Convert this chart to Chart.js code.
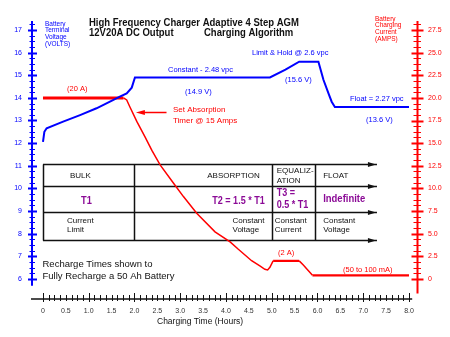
<!DOCTYPE html>
<html>
<head>
<meta charset="utf-8">
<script src="https://cdn.jsdelivr.net/npm/chart.js@4.4.1/dist/chart.umd.min.js"></script>
<style>
  body { margin: 0; background: #fff; }
  canvas { display: block; }
</style>
</head>
<body>
<canvas id="charger-chart" width="450" height="337"></canvas>
<script>
// Battery terminal voltage over the charge cycle
const voltTime = [0, 0.03, 0.08, 0.44, 0.81, 1.17, 1.54, 1.68, 1.83, 1.94, 2.01, 4.96, 5.3, 5.6, 6.02, 6.13, 6.24, 6.31, 6.38, 8.0];
const voltValues = [12.06, 12.5, 12.66, 12.95, 13.24, 13.54, 13.91, 14.05, 14.2, 14.45, 14.9, 14.9, 15.25, 15.6, 15.6, 14.8, 14.2, 13.83, 13.6, 13.6];

// Charging current over the same cycle
const ampTime = [0, 1.76, 1.83, 1.9, 2.05, 2.23, 2.38, 2.56, 2.85, 3.07, 3.36, 3.76, 4.09, 4.27, 4.56, 4.74, 4.85, 4.91, 4.96, 5.03, 5.6, 5.69, 5.89, 8.0];
const ampValues = [20, 20, 19.77, 19.0, 17.4, 15.7, 14.2, 12.6, 10.6, 9.1, 7.25, 5.2, 4.1, 3.28, 2.02, 1.44, 1.07, 1.0, 1.29, 2.0, 2.0, 1.55, 0.4, 0.4];

// Axis ticks
const xTickValues = [0, 0.5, 1, 1.5, 2, 2.5, 3, 3.5, 4, 4.5, 5, 5.5, 6, 6.5, 7, 7.5, 8];
const xTickLabels = ['0', '0.5', '1.0', '1.5', '2.0', '2.5', '3.0', '3.5', '4.0', '4.5', '5.0', '5.5', '6.0', '6.5', '7.0', '7.5', '8.0'];
const voltTicks = [6, 7, 8, 9, 10, 11, 12, 13, 14, 15, 16, 17];
const voltTickLabels = ['6', '7', '8', '9', '10', '11', '12', '13', '14', '15', '16', '17'];
const ampTicks = [0, 2.5, 5, 7.5, 10, 12.5, 15, 17.5, 20, 22.5, 25, 27.5];
const ampTickLabels = ['0', '2.5', '5.0', '7.5', '10.0', '12.5', '15.0', '17.5', '20.0', '22.5', '25.0', '27.5'];

// Stage table: phase boundaries (hours) and where the arrows end
const phaseBounds = [0, 2.0, 5.0, 5.95];
const tableEnd = 7.3;

const BLUE = '#0000ff';
const RED = '#ff0000';
const PURPLE = '#8b0a96';
const INK = '#111111';
const FONT = '"Liberation Sans", Arial, sans-serif';

function font(size, bold) {
    return (bold ? 'bold ' : '') + size + 'px ' + FONT;
}

function drawText(ctx, text, x, y, size, color, opts) {
    opts = opts || {};
    ctx.save();
    ctx.font = font(size, opts.bold);
    ctx.fillStyle = color;
    ctx.textAlign = opts.align || 'left';
    ctx.textBaseline = 'middle';
    ctx.translate(x, y);
    ctx.scale(opts.squeeze || 1, 1);
    ctx.fillText(text, 0, 0);
    ctx.restore();
}

function seg(ctx, x1, y1, x2, y2) {
    ctx.beginPath();
    ctx.moveTo(x1, y1);
    ctx.lineTo(x2, y2);
    ctx.stroke();
}

// Axis lines with crossing tick marks, plus the stage table
const frame = {
    id: 'frame',
    beforeDatasetsDraw(chart) {
        const { ctx, chartArea, scales: { x, y, y1 } } = chart;
        ctx.save();

        // voltage axis (left)
        const lx = chartArea.left + 1;
        ctx.strokeStyle = BLUE;
        ctx.lineWidth = 2;
        seg(ctx, lx, chartArea.top - 1, lx, y.getPixelForValue(5.7));
        for (let v = 6; v <= 17.26; v += 0.25) {
            const py = Math.round(y.getPixelForValue(v)) + 0.5;
            const major = Math.abs(v - Math.round(v)) < 0.01;
            ctx.lineWidth = major ? 2 : 1;
            seg(ctx, lx - (major ? 4 : 2.5), py, lx + (major ? 5 : 3), py);
        }

        // current axis (right)
        const rx = chartArea.right + 0.5;
        ctx.strokeStyle = RED;
        ctx.lineWidth = 2;
        seg(ctx, rx, chartArea.top - 1, rx, y1.getPixelForValue(-1.6));
        for (let a = 0; a <= 28.2; a += 0.625) {
            const py = Math.round(y1.getPixelForValue(a)) + 0.5;
            const major = Math.abs(a / 2.5 - Math.round(a / 2.5)) < 0.01;
            ctx.lineWidth = major ? 2 : 1;
            seg(ctx, rx - (major ? 6 : 4), py, rx + (major ? 6 : 3.5), py);
        }

        // time axis
        const by = chartArea.bottom;
        ctx.strokeStyle = INK;
        ctx.lineWidth = 1.5;
        seg(ctx, chartArea.left, by, x.getPixelForValue(8.07), by);
        ctx.lineWidth = 1;
        for (let t = 0; t <= 8.01; t += 0.125) {
            const px = Math.round(x.getPixelForValue(t)) + 0.5;
            const major = Math.abs(t - Math.round(t)) < 0.01;
            seg(ctx, px, by - (major ? 6 : 4), px, by + (major ? 3 : 2));
        }

        // stage table
        const rowY = [164.5, 186.5, 212.5, 240.5];
        const left = x.getPixelForValue(phaseBounds[0]);
        const right = x.getPixelForValue(tableEnd);
        ctx.strokeStyle = INK;
        ctx.fillStyle = INK;
        ctx.lineWidth = 1.5;
        rowY.forEach(ry => {
            seg(ctx, left, ry, right, ry);
            ctx.beginPath();
            ctx.moveTo(right - 1, ry);
            ctx.lineTo(right - 9, ry - 2.5);
            ctx.lineTo(right - 9, ry + 2.5);
            ctx.closePath();
            ctx.fill();
        });
        phaseBounds.forEach(t => {
            const px = Math.round(x.getPixelForValue(t)) + 0.5;
            seg(ctx, px, rowY[0], px, rowY[3]);
        });

        const c1 = x.getPixelForValue(phaseBounds[0]);
        const c2 = x.getPixelForValue(phaseBounds[1]);
        const c3 = x.getPixelForValue(phaseBounds[2]);
        const c4 = x.getPixelForValue(phaseBounds[3]);
        drawText(ctx, 'BULK', c1 + 27, 175.5, 8, INK);
        drawText(ctx, 'ABSORPTION', c3 - 12, 175.5, 8, INK, { align: 'right' });
        drawText(ctx, 'EQUALIZ-', c3 + 5, 170.5, 8, INK);
        drawText(ctx, 'ATION', c3 + 5, 180.5, 8, INK);
        drawText(ctx, 'FLOAT', c4 + 8, 175.5, 8, INK);

        drawText(ctx, 'T1', c1 + 38, 201.5, 10.5, PURPLE, { bold: true, squeeze: 0.88 });
        drawText(ctx, 'T2 = 1.5 * T1', c3 - 7, 201.5, 10.5, PURPLE, { bold: true, squeeze: 0.86, align: 'right' });
        drawText(ctx, 'T3 =', c3 + 5, 193.5, 10.5, PURPLE, { bold: true, squeeze: 0.86 });
        drawText(ctx, '0.5 * T1', c3 + 5, 205.5, 10.5, PURPLE, { bold: true, squeeze: 0.86 });
        drawText(ctx, 'Indefinite', c4 + 8, 199, 10.5, PURPLE, { bold: true, squeeze: 0.9 });

        drawText(ctx, 'Current', c1 + 24, 220.5, 8, INK);
        drawText(ctx, 'Limit', c1 + 24, 230, 8, INK);
        drawText(ctx, 'Constant', c2 + 98, 220.5, 8, INK);
        drawText(ctx, 'Voltage', c2 + 98, 230, 8, INK);
        drawText(ctx, 'Constant', c3 + 3, 220.5, 8, INK);
        drawText(ctx, 'Current', c3 + 3, 230, 8, INK);
        drawText(ctx, 'Constant', c4 + 8, 220.5, 8, INK);
        drawText(ctx, 'Voltage', c4 + 8, 230, 8, INK);

        ctx.restore();
    },

    // titles, axis captions and curve notes
    afterDraw(chart) {
        const { ctx, scales: { x, y1 } } = chart;
        ctx.save();

        drawText(ctx, 'High Frequency Charger Adaptive 4 Step AGM', 89, 22.5, 11, INK, { bold: true, squeeze: 0.865 });
        drawText(ctx, '12V20A DC Output', 89, 33, 11, INK, { bold: true, squeeze: 0.865 });
        drawText(ctx, 'Charging Algorithm', 204, 33, 11, INK, { bold: true, squeeze: 0.865 });

        ['Battery', 'Terminal', 'Voltage', '(VOLTS)'].forEach((s, i) => {
            drawText(ctx, s, 45, 24 + i * 6.7, 6.5, BLUE);
        });
        ['Battery', 'Charging', 'Current', '(AMPS)'].forEach((s, i) => {
            drawText(ctx, s, 375, 19 + i * 6.7, 6.5, RED);
        });

        drawText(ctx, '(20 A)', 67, 89, 7.5, RED);
        drawText(ctx, 'Set Absorption', 173, 109.5, 8, RED);
        drawText(ctx, 'Timer @ 15 Amps', 173, 120.5, 8, RED);
        drawText(ctx, 'Constant - 2.48 vpc', 168, 70, 7.5, BLUE);
        drawText(ctx, '(14.9 V)', 185, 92, 7.5, BLUE);
        drawText(ctx, 'Limit & Hold @ 2.6 vpc', 252, 53, 7.5, BLUE);
        drawText(ctx, '(15.6 V)', 285, 80, 7.5, BLUE);
        drawText(ctx, 'Float = 2.27 vpc', 350, 98.5, 7.5, BLUE);
        drawText(ctx, '(13.6 V)', 366, 120, 7.5, BLUE);
        drawText(ctx, '(2 A)', 278, 252.5, 7.5, RED);
        drawText(ctx, '(50 to 100 mA)', 343, 269.5, 7.5, RED);

        drawText(ctx, 'Recharge Times shown to', 42.5, 264.5, 9.5, INK);
        drawText(ctx, 'Fully Recharge a 50 Ah Battery', 42.5, 276, 9.5, INK);
        drawText(ctx, 'Charging Time (Hours)', 157, 321.5, 8.5, INK);

        // pointer to the absorption timer start
        const tipX = x.getPixelForValue(2.03);
        const tailX = x.getPixelForValue(2.7);
        const ay = Math.round(y1.getPixelForValue(18.4)) + 0.5;
        ctx.strokeStyle = RED;
        ctx.fillStyle = RED;
        ctx.lineWidth = 1.5;
        seg(ctx, tipX + 6, ay, tailX, ay);
        ctx.beginPath();
        ctx.moveTo(tipX, ay);
        ctx.lineTo(tipX + 9, ay - 2.5);
        ctx.lineTo(tipX + 9, ay + 2.5);
        ctx.closePath();
        ctx.fill();

        ctx.restore();
    }
};

const ctx = document.getElementById('charger-chart').getContext('2d');

const chart = new Chart(ctx, {
    type: 'line',
    data: {
        datasets: [{
            label: 'Voltage',
            data: voltTime.map((t, i) => ({ x: t, y: voltValues[i] })),
            yAxisID: 'y',
            borderColor: BLUE,
            borderWidth: 2,
            pointRadius: 0,
            tension: 0,
            fill: false
        }, {
            label: 'Current',
            data: ampTime.map((t, i) => ({ x: t, y: ampValues[i] })),
            yAxisID: 'y1',
            borderColor: RED,
            borderWidth: 2,
            pointRadius: 0,
            tension: 0,
            fill: false,
            segment: {
                borderWidth: c => c.p0DataIndex === 0 ? 3 : (c.p0.parsed.y === c.p1.parsed.y ? 2.2 : 1.5)
            }
        }]
    },
    options: {
        responsive: false,
        animation: false,
        devicePixelRatio: 1,
        layout: { padding: { top: 22, left: 0, right: 0, bottom: 0 } },
        plugins: {
            legend: { display: false },
            tooltip: { enabled: false }
        },
        scales: {
            x: {
                type: 'linear',
                min: -0.262,
                max: 8.175,
                grid: { display: false, drawTicks: false },
                border: { display: false },
                afterBuildTicks: s => { s.ticks = xTickValues.map(v => ({ value: v })); },
                afterFit: s => { s.height = 38; },
                ticks: {
                    autoSkip: false,
                    maxRotation: 0,
                    padding: 8,
                    color: '#333',
                    font: { family: FONT, size: 7 },
                    callback: (v, i) => xTickLabels[i]
                }
            },
            y: {
                position: 'left',
                min: 5.117,
                max: 17.35,
                grid: { display: false, drawTicks: false },
                border: { display: false },
                afterBuildTicks: s => { s.ticks = voltTicks.map(v => ({ value: v })); },
                afterFit: s => { s.width = 31; },
                ticks: {
                    autoSkip: false,
                    padding: 9,
                    color: BLUE,
                    font: { family: FONT, size: 7 },
                    callback: (v, i) => voltTickLabels[i]
                }
            },
            y1: {
                position: 'right',
                min: -2.21,
                max: 28.38,
                grid: { display: false, drawTicks: false },
                border: { display: false },
                afterBuildTicks: s => { s.ticks = ampTicks.map(v => ({ value: v })); },
                afterFit: s => { s.width = 33; },
                ticks: {
                    autoSkip: false,
                    padding: 11,
                    color: RED,
                    font: { family: FONT, size: 7 },
                    callback: (v, i) => ampTickLabels[i]
                }
            }
        }
    },
    plugins: [frame]
});
</script>
</body>
</html>
